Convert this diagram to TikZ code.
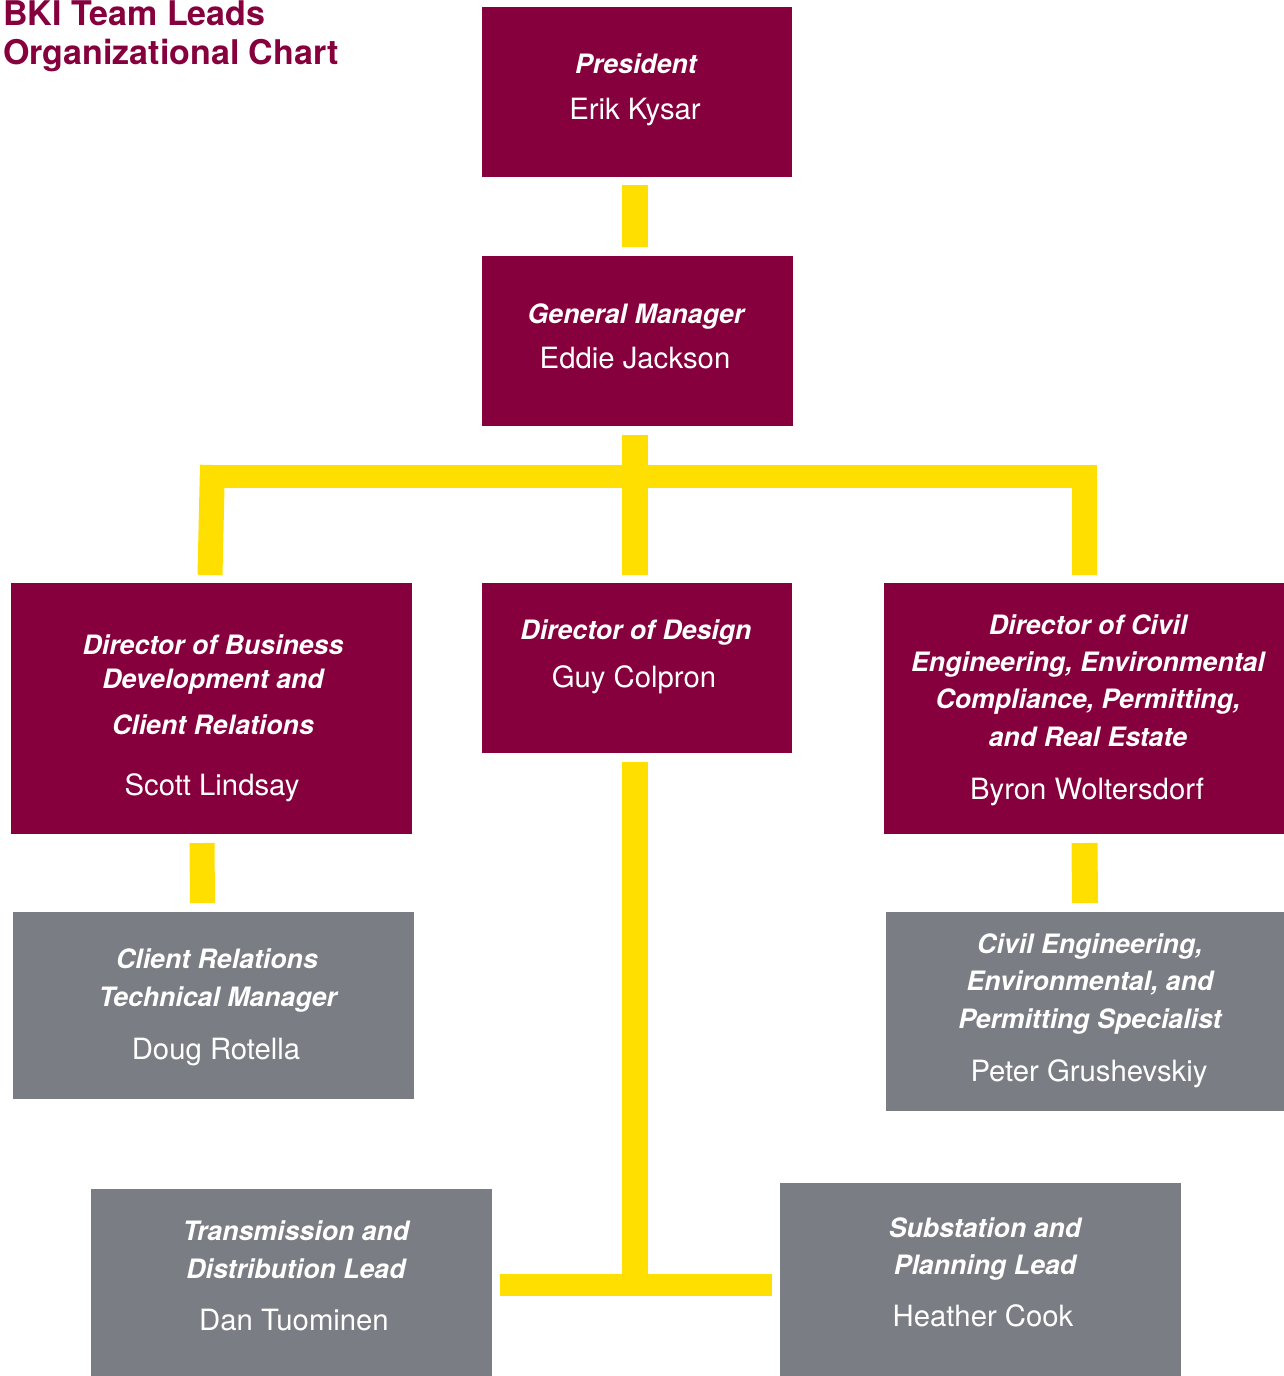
\documentclass[tikz,border=0pt]{standalone}
\usepackage{fontspec}
\setmainfont{TeX Gyre Heros}
\usetikzlibrary{calc}
\definecolor{maroon}{RGB}{133,0,60}
\definecolor{ylw}{RGB}{255,223,0}
\definecolor{slate}{RGB}{122,125,131}
\tikzset{
  mbox/.style={fill=maroon, draw=none, inner sep=0pt, outer sep=0pt, anchor=north west},
  gbox/.style={fill=slate, draw=none, inner sep=0pt, outer sep=0pt, anchor=north west},
  role/.style={text=white, inner sep=0pt, anchor=base, font=\fontsize{26.7}{30}\selectfont\bfseries\itshape},
  pname/.style={text=white, inner sep=0pt, anchor=base, font=\fontsize{29.3}{32}\selectfont},
  conn/.style={draw=ylw, line cap=butt, line join=miter},
  ttl/.style={text=maroon, inner sep=0pt, anchor=base west, font=\fontsize{34}{38}\selectfont\bfseries}
}
\begin{document}
\begin{tikzpicture}[x=1pt,y=-1pt]
\useasboundingbox (0,0) rectangle (1284,1376);
% title
\node[ttl] (t1) at (3,25.5) {BKI Team Leads};
\node[ttl] (t2) at (3,64.5) {Organizational Chart};
% boxes
\node[mbox, minimum width=310, minimum height=170] (pres) at (482,7) {};
\node[mbox, minimum width=311, minimum height=170] (gm) at (482,256) {};
\node[mbox, minimum width=401, minimum height=251] (bizdir) at (11,583) {};
\node[mbox, minimum width=310, minimum height=170] (design) at (482,583) {};
\node[mbox, minimum width=402, minimum height=251] (civdir) at (884,583) {};
\node[gbox, minimum width=401, minimum height=187] (client) at (13,912) {};
\node[gbox, minimum width=400, minimum height=199] (civspec) at (886,912) {};
\node[gbox, minimum width=401, minimum height=190] (trans) at (91,1189) {};
\node[gbox, minimum width=401, minimum height=196] (subst) at (780,1183) {};
% connectors
\draw[conn, line width=26] ([xshift=-2,yshift=-8]pres.south) -- ([xshift=-2.5,yshift=9]gm.north);
\coordinate (busL) at (212.5,476.5);
\coordinate (busR) at (1097,476.5);
\draw[conn, line width=26] ([xshift=-2.5,yshift=-9]gm.south) -- ([xshift=-2,yshift=8]design.north);
\draw[conn, line width=23] (busL) -- (busR);
\draw[conn, line width=25] ($(busL)+(0,-11.5)$) -- ([xshift=-1.5,yshift=8]bizdir.north);
\draw[conn, line width=25] ($(busR)+(-12.5,-11.5)$) -- ([xshift=-0.5,yshift=8]civdir.north);
\draw[conn, line width=25] ([xshift=-9.5,yshift=-9]bizdir.south) -- ([xshift=-11,yshift=9]client.north);
\draw[conn, line width=26] ([xshift=-0.5,yshift=-9]civdir.south) -- ([xshift=-1,yshift=9]civspec.north);
\coordinate (tj) at (635,1285);
\draw[conn, line width=26] ([xshift=-2,yshift=-9]design.south) -- (tj);
\draw[conn, line width=22] ([xshift=8]trans.east |- tj) -- ([xshift=-8]subst.west |- tj);
% texts
\node[role] (presR) at (636,73) {President};
\node[pname] (presN) at (635,119) {Erik Kysar};
\node[role] (gmR) at (636,323) {General Manager};
\node[pname] (gmN) at (635,368) {Eddie Jackson};
\node[role] (bizR1) at (213,654) {Director of Business};
\node[role] (bizR2) at (213,688) {Development and};
\node[role] (bizR3) at (213,734) {Client Relations};
\node[pname] (bizN) at (212,795) {Scott Lindsay};
\node[role] (desR) at (636,639) {Director of Design};
\node[pname] (desN) at (634,687) {Guy Colpron};
\node[role] (civR1) at (1088,634) {Director of Civil};
\node[role] (civR2) at (1088,671) {Engineering, Environmental};
\node[role] (civR3) at (1088,708) {Compliance, Permitting,};
\node[role] (civR4) at (1088,746) {and Real Estate};
\node[pname] (civN) at (1087,799) {Byron Woltersdorf};
\node[role] (cliR1) at (217,968) {Client Relations};
\node[role] (cliR2) at (218,1006) {Technical Manager};
\node[pname] (cliN) at (216,1059) {Doug Rotella};
\node[role] (cspR1) at (1090,953) {Civil Engineering,};
\node[role] (cspR2) at (1090,990) {Environmental, and};
\node[role] (cspR3) at (1090,1028) {Permitting Specialist};
\node[pname] (cspN) at (1089,1081) {Peter Grushevskiy};
\node[role] (trR1) at (296,1240) {Transmission and};
\node[role] (trR2) at (296,1278) {Distribution Lead};
\node[pname] (trN) at (294,1330) {Dan Tuominen};
\node[role] (suR1) at (985,1237) {Substation and};
\node[role] (suR2) at (985,1274) {Planning Lead};
\node[pname] (suN) at (983,1326) {Heather Cook};
\end{tikzpicture}
\end{document}
